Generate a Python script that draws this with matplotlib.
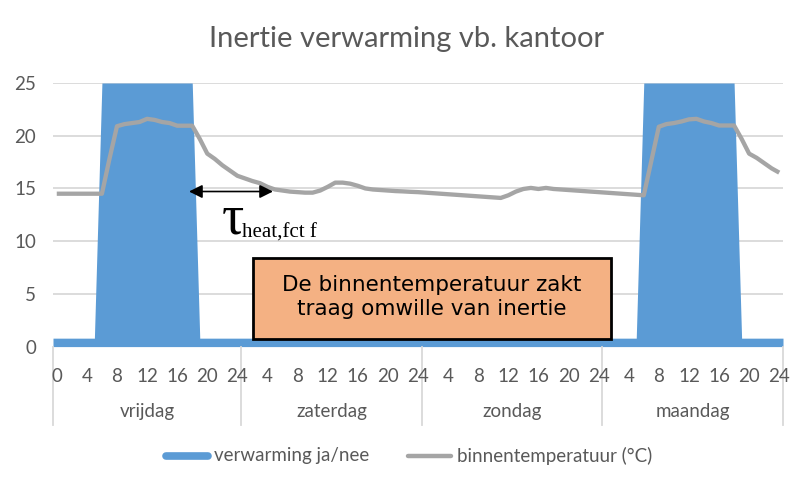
import matplotlib
matplotlib.use("Agg")
import matplotlib.pyplot as plt
from matplotlib.patches import Rectangle
from matplotlib.lines import Line2D

# ---------------- data ----------------
days = ["vrijdag", "zaterdag", "zondag", "maandag"]
# category hours: first day 0..24, following days 1..24
hours = list(range(0, 25)) + list(range(1, 25)) * 3

heating = ([0.8] * 6 + [25] * 13 + [0.8] * 6 +        # vrijdag 0..24
           [0.8] * 24 +                                  # zaterdag
           [0.8] * 24 +                                  # zondag
           [0.8] * 5 + [25] * 13 + [0.8] * 6)            # maandag

temp_vrijdag = [14.5, 14.5, 14.5, 14.5, 14.5, 14.5, 14.5, 17.8, 20.9, 21.1,
                21.2, 21.3, 21.6, 21.5, 21.3, 21.2, 20.95, 20.95, 20.95, 19.7,
                18.3, 17.8, 17.2, 16.7, 16.2]
temp_zaterdag = [15.95, 15.7, 15.5, 15.15, 14.9, 14.8, 14.7, 14.65, 14.6, 14.6,
                 14.8, 15.15, 15.55, 15.55, 15.45, 15.25, 15.0, 14.9, 14.85, 14.8,
                 14.75, 14.72, 14.68, 14.65]
temp_zondag = [14.6, 14.55, 14.5, 14.45, 14.4, 14.35, 14.3, 14.25, 14.2, 14.15,
               14.1, 14.35, 14.7, 14.95, 15.05, 14.95, 15.05, 14.95, 14.9, 14.85,
               14.8, 14.75, 14.7, 14.65]
temp_maandag = [14.6, 14.55, 14.5, 14.45, 14.4, 14.35, 17.6, 20.85, 21.1, 21.2,
                21.35, 21.55, 21.6, 21.35, 21.2, 20.97, 20.97, 20.97, 19.7, 18.3,
                17.9, 17.4, 16.9, 16.5]
temperature = temp_vrijdag + temp_zaterdag + temp_zondag + temp_maandag

title = "Inertie verwarming vb. kantoor"
series_names = ["verwarming ja/nee", "binnentemperatuur (°C)"]
box_text = "De binnentemperatuur zakt\ntraag omwille van inertie"

# ---------------- style ----------------
W, H = 809, 490
BLUE = "#5B9BD5"
GRAY = "#A5A5A5"
TXT = "#595959"
GRID = "#D9D9D9"
FONT = "Lato"
FS = 13.5

fig = plt.figure(figsize=(W / 100, H / 100), dpi=100)
L, R, T, B = 53, 783, 83, 346.6
ax = fig.add_axes([L / W, 1 - B / H, (R - L) / W, (B - T) / H])

def fx(px):
    return px / W

def fy(py):
    return 1 - py / H

def ay(py):
    return (B - py) / (B - T)

n = len(temperature)
xs = list(range(n))

# heating area (extends to the plot edges)
xa = [-0.5] + xs + [n - 0.5]
ya = [heating[0]] + heating + [heating[-1]]
ax.fill_between(xa, 0, ya, color=BLUE, lw=0, zorder=2)

# temperature line
ax.plot(xs, temperature, color=GRAY, lw=3.1, zorder=3,
        solid_joinstyle="round", solid_capstyle="butt")

ax.set_xlim(-0.5, n - 0.5)
ax.set_ylim(0, 25)
ax.set_yticks([0, 5, 10, 15, 20, 25])
ax.yaxis.grid(True, color=GRID, lw=1.3, zorder=0)
ax.set_axisbelow(True)
for s in ax.spines.values():
    s.set_visible(False)
ax.tick_params(axis="y", length=0, pad=12, labelsize=FS, labelcolor=TXT)
for lab in ax.get_yticklabels():
    lab.set_fontfamily(FONT)
ax.set_xticks([])

# hour labels
trans = ax.get_xaxis_transform()
for k in range(0, n, 4):
    ax.text(k, ay(377), str(hours[k]), transform=trans, ha="center", va="center",
            fontsize=FS, color=TXT, family=FONT, clip_on=False)

# day group separators and labels
bounds = [-0.5, 24.5, 48.5, 72.5, 96.5]
for b in bounds:
    ax.add_line(Line2D([b, b], [0, ay(425)], transform=trans, color=GRID,
                       lw=1.3, clip_on=False))
for i, d in enumerate(days):
    c = (bounds[i] + bounds[i + 1]) / 2
    ax.text(c, ay(411), d, transform=trans, ha="center", va="center",
            fontsize=FS, color=TXT, family=FONT, clip_on=False)

# title
fig.text(fx(407), fy(39), title, ha="center", va="center", fontsize=21,
         color=TXT, family=FONT)

# legend
legy = fy(456)
fig.add_artist(Line2D([fx(166), fx(208)], [legy, legy], color=BLUE, lw=5.5,
                      solid_capstyle="round", transform=fig.transFigure))
fig.text(fx(214), legy, series_names[0], ha="left", va="center", fontsize=FS,
         color=TXT, family=FONT)
fig.add_artist(Line2D([fx(408), fx(451)], [legy, legy], color=GRAY, lw=3.2,
                      solid_capstyle="round", transform=fig.transFigure))
fig.text(fx(457), legy, series_names[1], ha="left", va="center", fontsize=FS,
         color=TXT, family=FONT)

# arrow annotation
ax.annotate("", xy=(fx(189), fy(191.5)), xytext=(fx(273), fy(191.5)),
            xycoords="figure fraction", textcoords="figure fraction",
            arrowprops=dict(arrowstyle="<|-|>", color="black", lw=1.2,
                            mutation_scale=20, shrinkA=0, shrinkB=0), zorder=6)
fig.text(fx(233), fy(219), "τ", ha="center", va="center", fontsize=40,
         family="Liberation Serif", color="black")
fig.text(fx(242), fy(238), "heat,fct f", ha="left", va="baseline",
         fontsize=15, family="Liberation Serif", color="black")

# text box
ax.add_patch(Rectangle((fx(253), fy(339)), (611 - 253) / W, (339 - 258) / H,
                       transform=fig.transFigure, facecolor="#F4B183",
                       edgecolor="black", lw=2, clip_on=False, zorder=6))
fig.text(fx(432), fy(297), box_text, ha="center", va="center", fontsize=15.5,
         family="DejaVu Sans", color="black", linespacing=1.3, zorder=7)

fig.savefig("out.png", dpi=100)
